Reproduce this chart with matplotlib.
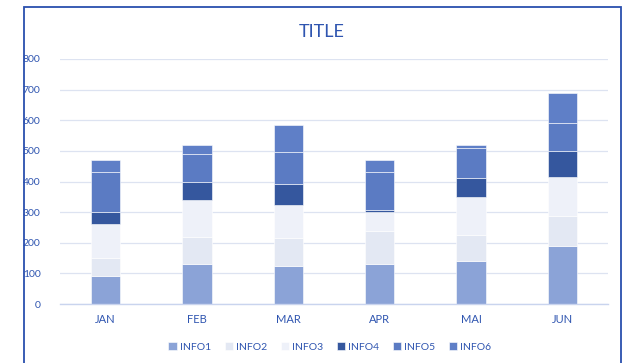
import matplotlib
matplotlib.use("Agg")
import matplotlib.pyplot as plt
from matplotlib.patches import Rectangle
import numpy as np

plt.rcParams['font.family'] = ['Lato', 'DejaVu Sans']

months = ["JAN", "FEB", "MAR", "APR", "MAI", "JUN"]
series_names = ["INFO1", "INFO2", "INFO3", "INFO4", "INFO5", "INFO6"]
info1 = [90, 130, 125, 130, 140, 188]
info2 = [60, 90, 90, 110, 85, 100]
info3 = [110, 120, 107, 62, 125, 128]
info4 = [40, 60, 70, 6, 60, 82]
info5 = [130, 90, 103, 122, 100, 92]
info6 = [40, 30, 88, 40, 10, 100]
series = [info1, info2, info3, info4, info5, info6]
colors = ["#8BA3D7", "#E3E8F3", "#EEF1F9", "#35579E", "#5B7BC3", "#5F7FC7"]
yticks = [0, 100, 200, 300, 400, 500, 600, 700, 800]

text_color = "#2F55B0"

fig = plt.figure(figsize=(6.30, 3.63), dpi=100)
W, H = 630, 363
ax = fig.add_axes([60 / W, 1 - 304 / H, (608 - 60) / W, (304 - 59) / H])

x = np.arange(len(months))
bottom = np.zeros(len(months))
for name, vals, c in zip(series_names, series, colors):
    ax.bar(x, vals, width=0.32, bottom=bottom, color=c, label=name,
           edgecolor="#FFFFFF", linewidth=0.4, zorder=3)
    bottom += np.array(vals)

ax.set_xlim(-0.5, len(months) - 0.5)
ax.set_ylim(0, 800)
ax.set_yticks(yticks)
ax.set_yticklabels([str(t) for t in yticks])
ax.set_xticks(x)
ax.set_xticklabels(months)
ax.tick_params(axis='both', length=0, colors=text_color, labelsize=7.5)
ax.tick_params(axis='y', pad=14)
ax.tick_params(axis='x', pad=7, labelsize=8)
ax.grid(axis='y', color="#DDE3F1", linewidth=0.9, zorder=0)
for s in ["top", "right", "left"]:
    ax.spines[s].set_visible(False)
ax.spines["bottom"].set_color("#C9D4EE")
ax.spines["bottom"].set_linewidth(1.0)
ax.spines["bottom"].set_zorder(4)

fig.text(322 / W, 1 - 32 / H, "TITLE", ha="center", va="center",
         color=text_color, fontsize=13)

leg = fig.legend(loc="center", bbox_to_anchor=(330 / W, 1 - 347 / H), ncol=6,
                 frameon=False, fontsize=7.5, handlelength=0.8, handleheight=0.8,
                 handletextpad=0.3, columnspacing=1.3, borderaxespad=0)
for t in leg.get_texts():
    t.set_color(text_color)

border = Rectangle((23.5 / W, -0.05), (621 - 23.5) / W, 1 - 7 / H + 0.05,
                   transform=fig.transFigure, fill=False, edgecolor="#2A4FAE",
                   linewidth=1.3, clip_on=False)
fig.patches.append(border)

fig.savefig("out.png", dpi=100)
